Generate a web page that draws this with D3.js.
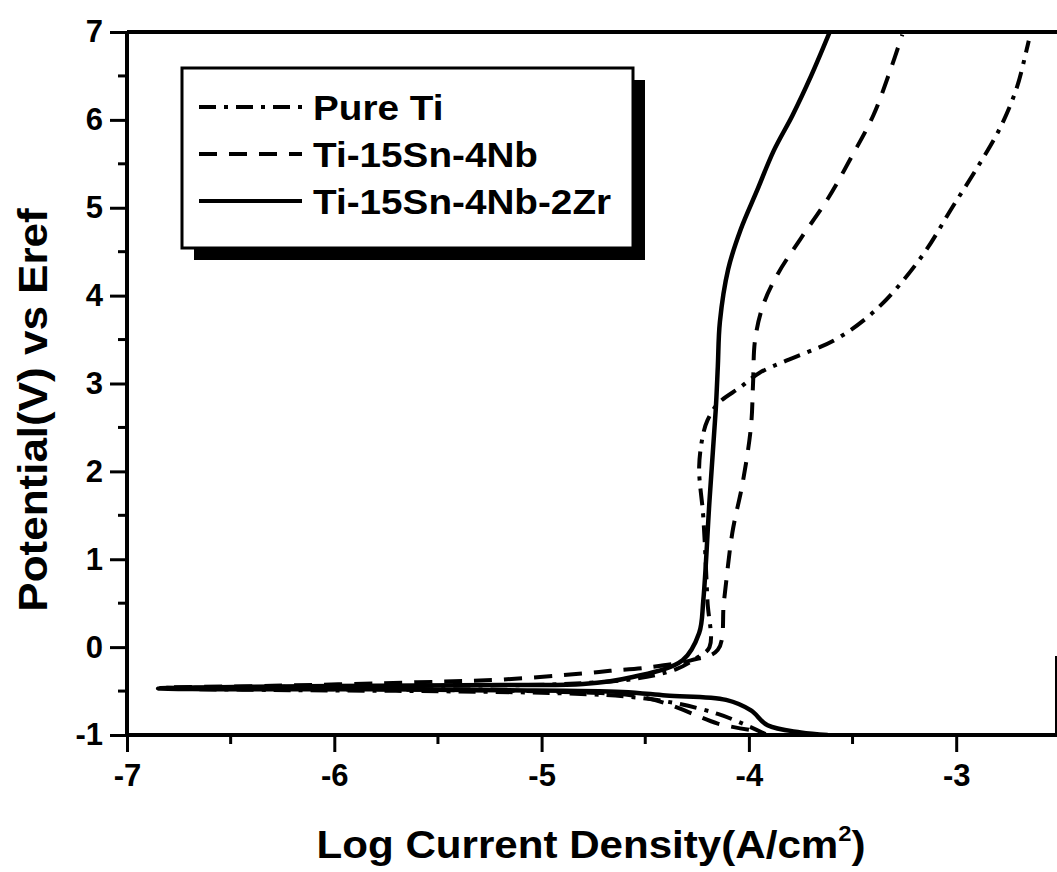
<!DOCTYPE html>
<html>
<head>
<meta charset="utf-8">
<script src="https://cdn.jsdelivr.net/npm/d3@7"></script>
<style>
  body { margin: 0; background: #fff; }
  text { font-family: "Liberation Sans", Arial, sans-serif; font-weight: bold; fill: #000; }
</style>
</head>
<body>
<div id="chart"></div>
<script>
// polarization curves, log current density vs potential

var pureTiX = [-3.92, -4.02, -4.15, -4.35, -4.6, -5.0, -5.6, -6.2, -6.80, -6.2, -5.5, -4.9, -4.55, -4.35, -4.25, -4.19, -4.20, -4.22, -4.24, -4.22, -4.20, -4.15, -4.04, -3.95, -3.82, -3.59, -3.43, -3.30, -3.15, -3.02, -2.90, -2.79, -2.71, -2.66, -2.65];
var pureTiY = [-0.99, -0.88, -0.76, -0.64, -0.56, -0.52, -0.50, -0.49, -0.47, -0.45, -0.44, -0.42, -0.36, -0.25, -0.12, 0.0, 0.53, 1.48, 2.05, 2.43, 2.58, 2.77, 2.96, 3.12, 3.26, 3.49, 3.75, 4.05, 4.50, 5.00, 5.45, 5.90, 6.35, 6.80, 6.90];

var snNbX = [-4.00, -4.15, -4.28, -4.40, -4.56, -4.9, -5.4, -6.0, -6.6, -6.82, -6.3, -5.6, -5.2, -4.8, -4.67, -4.48, -4.28, -4.15, -4.12, -4.08, -4.03, -3.99, -3.98, -3.97, -3.93, -3.86, -3.75, -3.62, -3.50, -3.40, -3.32, -3.26];
var snNbY = [-0.94, -0.87, -0.75, -0.64, -0.55, -0.51, -0.49, -0.48, -0.47, -0.46, -0.44, -0.40, -0.37, -0.30, -0.27, -0.23, -0.15, -0.03, 0.53, 1.30, 1.87, 2.51, 3.0, 3.50, 3.90, 4.25, 4.65, 5.10, 5.60, 6.05, 6.55, 6.97];

var snNbZrX = [-3.62, -3.75, -3.91, -3.99, -4.11, -4.40, -4.61, -5.2, -5.8, -6.4, -6.85, -6.4, -5.8, -5.2, -4.8, -4.56, -4.32, -4.24, -4.22, -4.19, -4.16, -4.15, -4.14, -4.10, -4.04, -3.96, -3.88, -3.79, -3.70, -3.61];
var snNbZrY = [-1.0, -0.97, -0.89, -0.72, -0.60, -0.55, -0.51, -0.49, -0.48, -0.48, -0.47, -0.45, -0.44, -0.43, -0.42, -0.34, -0.15, 0.16, 0.53, 1.67, 2.70, 3.19, 3.70, 4.30, 4.75, 5.20, 5.65, 6.05, 6.50, 7.0];

var seriesNames = ["Pure Ti", "Ti-15Sn-4Nb", "Ti-15Sn-4Nb-2Zr"];
var dashStyles = ["17,8,4,8", "18,12", null];

var xTicks = [-7, -6, -5, -4, -3];
var yTicks = [-1, 0, 1, 2, 3, 4, 5, 6, 7];

var svgWidth = 1057;
var svgHeight = 872;

var margin = { top: 32, right: 0, bottom: 137, left: 127 };
var width = svgWidth - margin.left - margin.right;
var height = svgHeight - margin.top - margin.bottom;

var svg = d3.select("#chart")
  .append("svg")
  .attr("width", svgWidth)
  .attr("height", svgHeight);

var chartGroup = svg.append("g")
  .attr("transform", `translate(${margin.left}, ${margin.top})`);

// scales: ~207px per decade
var xScale = d3.scaleLinear()
  .domain([-7, -7 + width / 207.3])
  .range([0, width]);

var yScale = d3.scaleLinear()
  .domain([-1, 7])
  .range([height, 0]);

chartGroup.append("clipPath")
  .attr("id", "plotClip")
  .append("rect")
  .attr("width", width)
  .attr("height", height);

// Axes
// ==============================
var bottomAxis = d3.axisBottom(xScale).tickValues(xTicks).tickSize(17).tickPadding(12).tickFormat(d => String(d));
var leftAxis = d3.axisLeft(yScale).tickValues(yTicks).tickSize(17).tickPadding(7).tickFormat(d => String(d));

var minorX = d3.range(-6.5, -2.5, 1);
var minorY = d3.range(-0.5, 7, 1);

chartGroup.selectAll(".minorX")
  .data(minorX)
  .enter()
  .append("line")
  .attr("x1", d => xScale(d))
  .attr("x2", d => xScale(d))
  .attr("y1", height)
  .attr("y2", height + 9)
  .attr("stroke", "#000")
  .attr("stroke-width", 3);

chartGroup.selectAll(".minorY")
  .data(minorY)
  .enter()
  .append("line")
  .attr("x1", 0)
  .attr("x2", -9)
  .attr("y1", d => yScale(d))
  .attr("y2", d => yScale(d))
  .attr("stroke", "#000")
  .attr("stroke-width", 3);

var xAxisG = chartGroup.append("g")
  .attr("transform", `translate(0, ${height})`)
  .call(bottomAxis);

var yAxisG = chartGroup.append("g")
  .call(leftAxis);

[xAxisG, yAxisG].forEach(function(g) {
  g.select(".domain").remove();
  g.selectAll(".tick line").attr("stroke", "#000").attr("stroke-width", 3);
  g.selectAll(".tick text")
    .attr("font-family", "'Liberation Sans', Arial, sans-serif")
    .attr("font-weight", "bold")
    .attr("font-size", "31px")
    .attr("fill", "#000");
});

// frame
chartGroup.append("path")
  .attr("d", `M0,${height}H${width + 2}M0,0H${width + 2}M0,0V${height}`)
  .attr("stroke", "#000")
  .attr("stroke-width", 4)
  .attr("fill", "none");

chartGroup.append("line")
  .attr("x1", width - 1).attr("x2", width - 1)
  .attr("y1", yScale(-0.1)).attr("y2", height)
  .attr("stroke", "#000")
  .attr("stroke-width", 2);

// Curves
// ==============================
var seriesData = [
  d3.zip(pureTiX, pureTiY),
  d3.zip(snNbX, snNbY),
  d3.zip(snNbZrX, snNbZrY)
];

var line = d3.line()
  .x(d => xScale(d[0]))
  .y(d => yScale(d[1]))
  .curve(d3.curveCatmullRom.alpha(0.5));

chartGroup.append("g")
  .attr("clip-path", "url(#plotClip)")
  .selectAll("path")
  .data(seriesData)
  .enter()
  .append("path")
  .attr("d", line)
  .attr("fill", "none")
  .attr("stroke", "#000")
  .attr("stroke-width", (d, i) => i == 2 ? 4.5 : 4)
  .attr("stroke-dasharray", (d, i) => dashStyles[i]);

// Legend
// ==============================
var legend = svg.append("g")
  .attr("transform", "translate(182, 68)");

legend.append("rect")
  .attr("x", 12).attr("y", 12)
  .attr("width", 451).attr("height", 180)
  .attr("fill", "#000");

legend.append("rect")
  .attr("x", 0).attr("y", 0)
  .attr("width", 451).attr("height", 180)
  .attr("fill", "#fff")
  .attr("stroke", "#000")
  .attr("stroke-width", 3);

var rows = legend.selectAll(".row")
  .data(seriesNames)
  .enter()
  .append("g")
  .attr("transform", (d, i) => `translate(0, ${39 + i * 47})`);

rows.append("line")
  .attr("x1", 17).attr("x2", 120)
  .attr("y1", 0).attr("y2", 0)
  .attr("stroke", "#000")
  .attr("stroke-width", 4)
  .attr("stroke-dasharray", (d, i) => dashStyles[i]);

// the scanned lettering is a bit wider than Liberation, stretch it a little
rows.append("text")
  .attr("transform", "translate(131, 13) scale(1.075, 1)")
  .attr("font-size", "36px")
  .text(d => d);

// Axis labels
// ==============================
svg.append("text")
  .attr("transform", "translate(47, 410) rotate(-90) scale(1.1, 1)")
  .attr("text-anchor", "middle")
  .attr("font-size", "40px")
  .text("Potential(V) vs Eref");

var xl = svg.append("text")
  .attr("transform", "translate(591, 858) scale(1.08, 1)")
  .attr("text-anchor", "middle")
  .attr("font-size", "39px");
xl.append("tspan").text("Log Current Density(A/cm");
xl.append("tspan").attr("dy", -17).attr("font-size", "22px").text("2");
xl.append("tspan").attr("dy", 17).text(")");
</script>
</body>
</html>
